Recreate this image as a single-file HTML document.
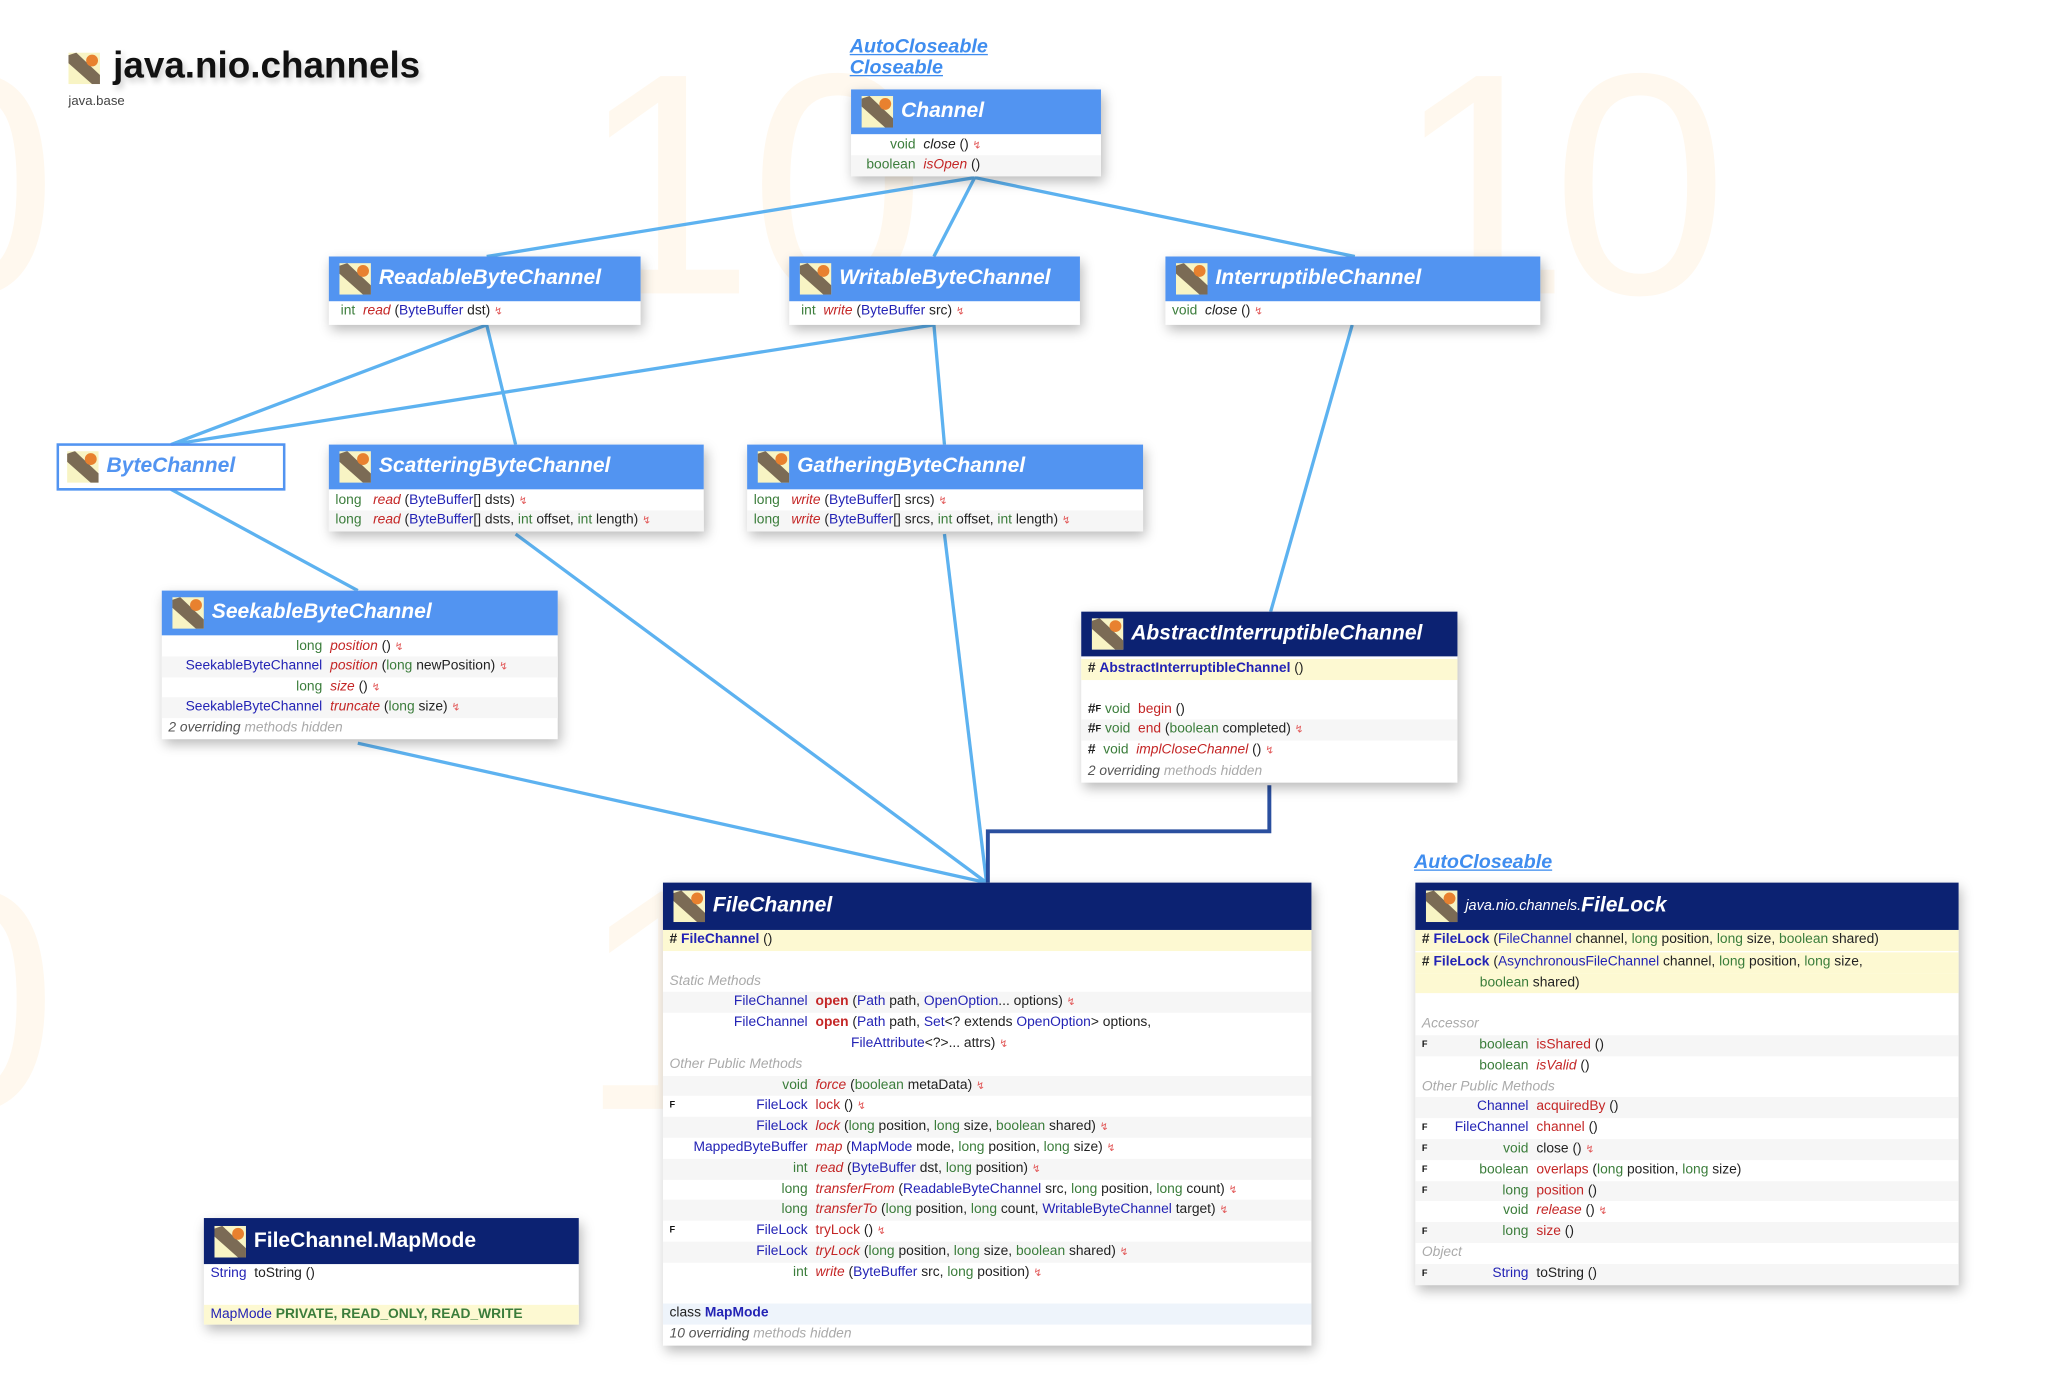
<!DOCTYPE html>
<html><head><meta charset="utf-8">
<style>
html,body{margin:0;padding:0;background:#fff;width:2052px;height:1376px;overflow:hidden}
#s{position:absolute;left:0;top:0;width:1560px;height:1046px;overflow:hidden;transform:scale(1.31538);transform-origin:0 0;font-family:"Liberation Sans",sans-serif}
.wm{position:absolute;color:#fff8ee;font-size:240px;font-family:"Liberation Sans",sans-serif;line-height:1}
.box{position:absolute;background:#fff;box-shadow:2px 4px 9px rgba(0,0,0,.28)}
.hd{height:34px;background:#5294f1;color:#fff;font-weight:bold;font-style:italic;font-size:16px;display:flex;align-items:center;padding-left:8px;box-sizing:border-box}
.hd.dk{background:#0c2272}
.ic{width:24px;height:24px;margin-right:6px;flex:none}
.r{height:15.8px;line-height:15.8px;font-size:10.5px;padding-left:5px;white-space:nowrap;color:#222;box-sizing:border-box}
.a{background:#f6f6f6}
.y{background:#fdf9d2}
.lb{background:#eef4fb}
.t{color:#3b7d3b}.c{color:#2323b5}.m{color:#c42626}.i{font-style:italic}.b{font-weight:bold}
.x{color:#e25a5a;font-size:8px}
.g{color:#aaa;font-style:italic}
.tc{display:inline-block;text-align:right;padding-right:6px}
.f{font-size:7px;font-weight:bold;vertical-align:top;color:#111}
.lnk{position:absolute;color:#3f8def;font-weight:bold;font-style:italic;font-size:15px;text-decoration:underline;line-height:16px}
</style></head><body>
<div id="s">
<div class="wm" style="left:-90px;top:20px">0</div>
<div class="wm" style="left:440px;top:20px">1</div>
<div class="wm" style="left:570px;top:20px">0</div>
<div class="wm" style="left:1060px;top:20px">1</div>
<div class="wm" style="left:1180px;top:20px">0</div>
<div class="wm" style="left:-90px;top:640px">0</div>
<div class="wm" style="left:440px;top:640px">1</div>
<div class="wm" style="left:570px;top:640px">0</div>

<svg width="1560" height="1046" style="position:absolute;left:0;top:0">
<defs><symbol id="ic" viewBox="0 0 24 24"><rect width="24" height="24" fill="#f8f4c4"/><path d="M0 2 L6 0 L24 17 L24 24 L18 24 L0 8Z" fill="#7b6b55"/><circle cx="18" cy="6" r="4.5" fill="#e8812f"/></symbol></defs>
<g stroke="#5db2f0" stroke-width="2.5" fill="none">
<line x1="741" y1="135" x2="370" y2="195"/>
<line x1="741" y1="135" x2="710" y2="195"/>
<line x1="741" y1="135" x2="1030" y2="195"/>
<line x1="370" y1="247" x2="130" y2="338"/>
<line x1="370" y1="247" x2="392" y2="338"/>
<line x1="710" y1="247" x2="130" y2="338"/>
<line x1="710" y1="247" x2="718" y2="338"/>
<line x1="1028" y1="247" x2="966" y2="465"/>
<line x1="130" y1="372" x2="272" y2="449"/>
<line x1="272" y1="565" x2="750" y2="671"/>
<line x1="392" y1="406" x2="750" y2="671"/>
<line x1="718" y1="406" x2="750" y2="671"/>
</g>
<polyline points="965,597 965,632 751,632 751,671" stroke="#2a4f9f" stroke-width="3" fill="none"/>
<use href="#ic" x="52" y="40" width="24" height="24"/>
</svg>

<div style="position:absolute;left:86px;top:34px;font-size:28px;font-weight:bold;color:#111;text-shadow:2px 3px 5px rgba(0,0,0,.2)">java.nio.channels</div>
<div style="position:absolute;left:52px;top:72px;font-size:10px;color:#444">java.base</div>

<div class="lnk" style="left:646px;top:28px">AutoCloseable</div>
<div class="lnk" style="left:646px;top:44px">Closeable</div>
<div class="lnk" style="left:1075px;top:648px">AutoCloseable</div>

<!-- Channel -->
<div class="box" style="left:647px;top:68px;width:190px">
<div class="hd"><svg class="ic"><use href="#ic" width="24" height="24"/></svg>Channel</div>
<div class="r" style="padding-top:1px"><span class="tc t" style="width:44px">void</span><span class="i">close</span> () <span class="x">↯</span></div>
<div class="r a"><span class="tc t" style="width:44px">boolean</span><span class="m i">isOpen</span> ()</div>
</div>

<!-- Readable -->
<div class="box" style="left:250px;top:195px;width:237px">
<div class="hd"><svg class="ic"><use href="#ic" width="24" height="24"/></svg>ReadableByteChannel</div>
<div class="r" style="height:18px;padding-left:9px"><span class="t">int</span>&nbsp; <span class="m i">read</span> (<span class="c">ByteBuffer</span> dst) <span class="x">↯</span></div>
</div>

<!-- Writable -->
<div class="box" style="left:600px;top:195px;width:221px">
<div class="hd"><svg class="ic"><use href="#ic" width="24" height="24"/></svg>WritableByteChannel</div>
<div class="r" style="height:18px;padding-left:9px"><span class="t">int</span>&nbsp; <span class="m i">write</span> (<span class="c">ByteBuffer</span> src) <span class="x">↯</span></div>
</div>

<!-- Interruptible -->
<div class="box" style="left:886px;top:195px;width:285px">
<div class="hd"><svg class="ic"><use href="#ic" width="24" height="24"/></svg>InterruptibleChannel</div>
<div class="r" style="height:18px"><span class="t">void</span>&nbsp; <span class="i">close</span> () <span class="x">↯</span></div>
</div>

<!-- ByteChannel -->
<div class="box" style="left:43px;top:337px;width:174px;height:36px;border:2px solid #5294f1;box-sizing:border-box;box-shadow:none">
<div class="hd" style="background:#fff;color:#5294f1;height:32px;padding-left:6px"><svg class="ic"><use href="#ic" width="24" height="24"/></svg>ByteChannel</div>
</div>

<!-- Scattering -->
<div class="box" style="left:250px;top:338px;width:285px">
<div class="hd"><svg class="ic"><use href="#ic" width="24" height="24"/></svg>ScatteringByteChannel</div>
<div class="r" style="padding-top:1px"><span class="t">long</span>&nbsp;&nbsp; <span class="m i">read</span> (<span class="c">ByteBuffer</span>[] dsts) <span class="x">↯</span></div>
<div class="r a"><span class="t">long</span>&nbsp;&nbsp; <span class="m i">read</span> (<span class="c">ByteBuffer</span>[] dsts, <span class="t">int</span> offset, <span class="t">int</span> length) <span class="x">↯</span></div>
</div>

<!-- Gathering -->
<div class="box" style="left:568px;top:338px;width:301px">
<div class="hd"><svg class="ic"><use href="#ic" width="24" height="24"/></svg>GatheringByteChannel</div>
<div class="r" style="padding-top:1px"><span class="t">long</span>&nbsp;&nbsp; <span class="m i">write</span> (<span class="c">ByteBuffer</span>[] srcs) <span class="x">↯</span></div>
<div class="r a"><span class="t">long</span>&nbsp;&nbsp; <span class="m i">write</span> (<span class="c">ByteBuffer</span>[] srcs, <span class="t">int</span> offset, <span class="t">int</span> length) <span class="x">↯</span></div>
</div>

<!-- Seekable -->
<div class="box" style="left:123px;top:449px;width:301px">
<div class="hd"><svg class="ic"><use href="#ic" width="24" height="24"/></svg>SeekableByteChannel</div>
<div class="r" style="padding-top:1px"><span class="tc t" style="width:117px">long</span><span class="m i">position</span> () <span class="x">↯</span></div>
<div class="r a"><span class="tc c" style="width:117px;padding-left:0">SeekableByteChannel</span><span class="m i">position</span> (<span class="t">long</span> newPosition) <span class="x">↯</span></div>
<div class="r"><span class="tc t" style="width:117px">long</span><span class="m i">size</span> () <span class="x">↯</span></div>
<div class="r a"><span class="tc c" style="width:117px">SeekableByteChannel</span><span class="m i">truncate</span> (<span class="t">long</span> size) <span class="x">↯</span></div>
<div class="r"><span class="i" style="color:#555">2 overriding</span> <span class="g">methods hidden</span></div>
</div>

<!-- AbstractInterruptible -->
<div class="box" style="left:822px;top:465px;width:286px">
<div class="hd dk"><svg class="ic"><use href="#ic" width="24" height="24"/></svg>AbstractInterruptibleChannel</div>
<div class="r y" style="margin-top:2px"><b>#</b> <span class="c b">AbstractInterruptibleChannel</span> ()</div>
<div class="r"></div>
<div class="r" style="margin-top:-1px"><b>#</b><span class="f">F</span> <span class="t">void</span>&nbsp; <span class="m">begin</span> ()</div>
<div class="r a"><b>#</b><span class="f">F</span> <span class="t">void</span>&nbsp; <span class="m">end</span> (<span class="t">boolean</span> completed) <span class="x">↯</span></div>
<div class="r"><b>#</b>&nbsp; <span class="t">void</span>&nbsp; <span class="m i">implCloseChannel</span> () <span class="x">↯</span></div>
<div class="r"><span class="i" style="color:#555">2 overriding</span> <span class="g">methods hidden</span></div>
</div>

<!-- FileChannel -->
<div class="box" style="left:504px;top:671px;width:493px">
<div class="hd dk" style="height:36px"><svg class="ic"><use href="#ic" width="24" height="24"/></svg>FileChannel</div>
<div class="r y"><b>#</b> <span class="c b">FileChannel</span> ()</div>
<div class="r"></div>
<div class="r g">Static Methods</div>
<div class="r a"><span class="tc c" style="width:105px">FileChannel</span><span class="m b">open</span> (<span class="c">Path</span> path, <span class="c">OpenOption</span>... options) <span class="x">↯</span></div>
<div class="r"><span class="tc c" style="width:105px">FileChannel</span><span class="m b">open</span> (<span class="c">Path</span> path, <span class="c">Set</span>&lt;? extends <span class="c">OpenOption</span>&gt; options,</div>
<div class="r" style="padding-left:143px"><span class="c">FileAttribute</span>&lt;?&gt;... attrs) <span class="x">↯</span></div>
<div class="r g">Other Public Methods</div>
<div class="r a"><span class="tc t" style="width:105px">void</span><span class="m i">force</span> (<span class="t">boolean</span> metaData) <span class="x">↯</span></div>
<div class="r"><span class="f" style="position:absolute;left:5px">F</span><span class="tc c" style="width:105px">FileLock</span><span class="m">lock</span> () <span class="x">↯</span></div>
<div class="r a"><span class="tc c" style="width:105px">FileLock</span><span class="m i">lock</span> (<span class="t">long</span> position, <span class="t">long</span> size, <span class="t">boolean</span> shared) <span class="x">↯</span></div>
<div class="r"><span class="tc c" style="width:105px">MappedByteBuffer</span><span class="m i">map</span> (<span class="c">MapMode</span> mode, <span class="t">long</span> position, <span class="t">long</span> size) <span class="x">↯</span></div>
<div class="r a"><span class="tc t" style="width:105px">int</span><span class="m i">read</span> (<span class="c">ByteBuffer</span> dst, <span class="t">long</span> position) <span class="x">↯</span></div>
<div class="r"><span class="tc t" style="width:105px">long</span><span class="m i">transferFrom</span> (<span class="c">ReadableByteChannel</span> src, <span class="t">long</span> position, <span class="t">long</span> count) <span class="x">↯</span></div>
<div class="r a"><span class="tc t" style="width:105px">long</span><span class="m i">transferTo</span> (<span class="t">long</span> position, <span class="t">long</span> count, <span class="c">WritableByteChannel</span> target) <span class="x">↯</span></div>
<div class="r"><span class="f" style="position:absolute;left:5px">F</span><span class="tc c" style="width:105px">FileLock</span><span class="m">tryLock</span> () <span class="x">↯</span></div>
<div class="r a"><span class="tc c" style="width:105px">FileLock</span><span class="m i">tryLock</span> (<span class="t">long</span> position, <span class="t">long</span> size, <span class="t">boolean</span> shared) <span class="x">↯</span></div>
<div class="r"><span class="tc t" style="width:105px">int</span><span class="m i">write</span> (<span class="c">ByteBuffer</span> src, <span class="t">long</span> position) <span class="x">↯</span></div>
<div class="r"></div>
<div class="r lb">class <span class="c b">MapMode</span></div>
<div class="r"><span class="i" style="color:#555">10 overriding</span> <span class="g">methods hidden</span></div>
</div>

<!-- FileLock -->
<div class="box" style="left:1076px;top:671px;width:413px">
<div class="hd dk" style="height:36px"><svg class="ic"><use href="#ic" width="24" height="24"/></svg><span style="font-weight:normal;font-size:11px">java.nio.channels.</span>FileLock</div>
<div class="r y"><b>#</b> <span class="c b">FileLock</span> (<span class="c">FileChannel</span> channel, <span class="t">long</span> position, <span class="t">long</span> size, <span class="t">boolean</span> shared)</div>
<div class="r y" style="margin-top:1px"><b>#</b> <span class="c b">FileLock</span> (<span class="c">AsynchronousFileChannel</span> channel, <span class="t">long</span> position, <span class="t">long</span> size,</div>
<div class="r y" style="padding-left:49px"><span class="t">boolean</span> shared)</div>
<div class="r"></div>
<div class="r g">Accessor</div>
<div class="r a"><span class="f" style="position:absolute;left:5px">F</span><span class="tc t" style="width:81px">boolean</span><span class="m">isShared</span> ()</div>
<div class="r"><span class="tc t" style="width:81px">boolean</span><span class="m i">isValid</span> ()</div>
<div class="r g">Other Public Methods</div>
<div class="r a"><span class="tc c" style="width:81px">Channel</span><span class="m">acquiredBy</span> ()</div>
<div class="r"><span class="f" style="position:absolute;left:5px">F</span><span class="tc c" style="width:81px">FileChannel</span><span class="m">channel</span> ()</div>
<div class="r a"><span class="f" style="position:absolute;left:5px">F</span><span class="tc t" style="width:81px">void</span>close () <span class="x">↯</span></div>
<div class="r"><span class="f" style="position:absolute;left:5px">F</span><span class="tc t" style="width:81px">boolean</span><span class="m">overlaps</span> (<span class="t">long</span> position, <span class="t">long</span> size)</div>
<div class="r a"><span class="f" style="position:absolute;left:5px">F</span><span class="tc t" style="width:81px">long</span><span class="m">position</span> ()</div>
<div class="r"><span class="tc t" style="width:81px">void</span><span class="m i">release</span> () <span class="x">↯</span></div>
<div class="r a"><span class="f" style="position:absolute;left:5px">F</span><span class="tc t" style="width:81px">long</span><span class="m">size</span> ()</div>
<div class="r g">Object</div>
<div class="r a"><span class="f" style="position:absolute;left:5px">F</span><span class="tc c" style="width:81px">String</span>toString ()</div>
</div>

<!-- MapMode -->
<div class="box" style="left:155px;top:926px;width:285px">
<div class="hd dk" style="height:35px;font-style:normal"><svg class="ic"><use href="#ic" width="24" height="24"/></svg>FileChannel.MapMode</div>
<div class="r"><span class="c">String</span>&nbsp; toString ()</div>
<div class="r"></div>
<div class="r y" style="margin-top:-1px"><span class="c">MapMode</span> <span class="t b">PRIVATE, READ_ONLY, READ_WRITE</span></div>
</div>

</div>
</body></html>
